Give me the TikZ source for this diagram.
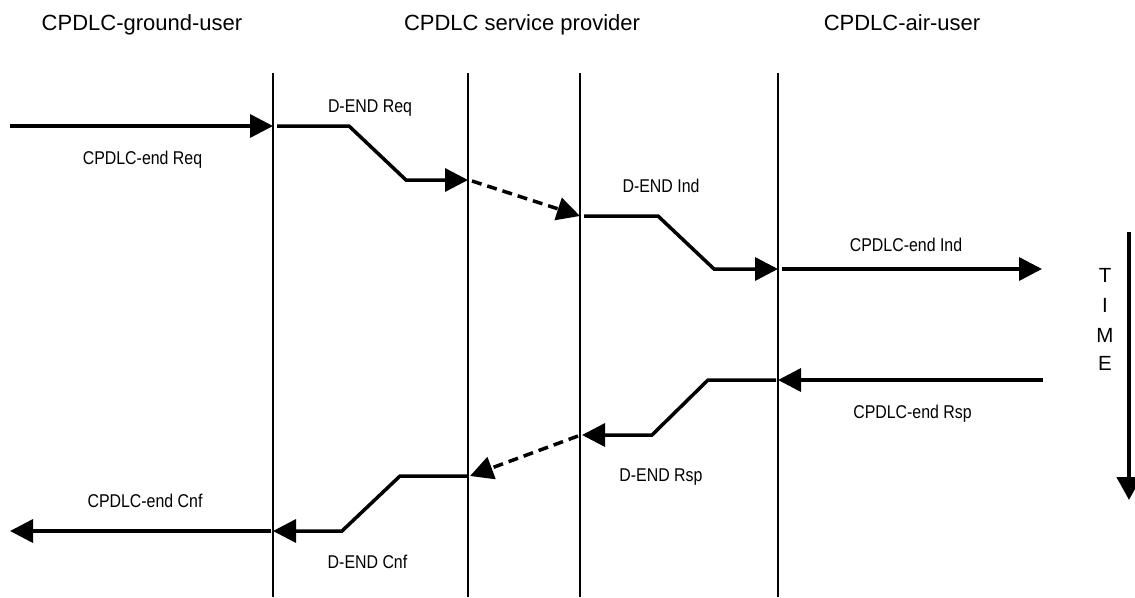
\documentclass[tikz,border=0pt]{standalone}
\usepackage{fontspec}
\setmainfont{Liberation Sans}
\newfontfamily\lblfont{Liberation Sans}[FakeStretch=0.86]
\usetikzlibrary{arrows.meta}

\tikzset{
  lifeline/.style={line width=1.8pt},
  msg/.style={line width=3.5pt, miter limit=4,
    -{Triangle[length=23pt,width=23pt]}},
  msgdash/.style={msg, dash pattern=on 10pt off 6pt},
  timeaxis/.style={line width=4.5pt, -{Triangle[length=23pt,width=24pt]}},
  head/.style={font=\fontsize{22}{25}\selectfont, anchor=base, inner sep=0pt},
  lbl/.style={font=\lblfont\fontsize{18.5}{21}\selectfont, anchor=base, inner sep=0pt},
  tletter/.style={font=\fontsize{20.5}{23}\selectfont, anchor=base, inner sep=0pt}
}

\begin{document}
\begin{tikzpicture}[x=1pt, y=-1pt]
  \useasboundingbox (0,0) rectangle (1135,597);

  % column headings
  \node[head] (hg) at (142,30) {CPDLC-ground-user};
  \node[head] (hs) at (522,30) {CPDLC service provider};
  \node[head] (ha) at (902,30) {CPDLC-air-user};

  % lifelines
  \foreach \n/\x in {1/273, 2/468, 3/580, 4/778} {
    \coordinate (L\n t) at (\x,73);
    \coordinate (L\n b) at (\x,597);
    \draw[lifeline] (L\n t) -- (L\n b);
  }

  % end request, ground -> air
  \coordinate (gIn)  at (10,126);
  \coordinate (gReq) at (273,126);
  \draw[msg] (gIn) -- (gReq);
  \node[lbl] (lReq) at (142.5,164) {CPDLC-end Req};

  \coordinate (pReq0) at (277,126);
  \coordinate (pReq1) at (349,126);
  \coordinate (pReq2) at (406,180);
  \coordinate (pReq3) at (468,180);
  \draw[msg] (pReq0) -- (pReq1) -- (pReq2) -- (pReq3);
  \node[lbl] (lDReq) at (370,112) {D-END Req};

  \coordinate (nReq0) at (472,181);
  \coordinate (nReq1) at (580,216);
  \draw[msgdash] (nReq0) -- (nReq1);

  \coordinate (pInd0) at (584,216);
  \coordinate (pInd1) at (658,216);
  \coordinate (pInd2) at (714,269);
  \coordinate (pInd3) at (778,269);
  \draw[msg] (pInd0) -- (pInd1) -- (pInd2) -- (pInd3);
  \node[lbl] (lDInd) at (661,192) {D-END Ind};

  \coordinate (aInd0) at (782,269);
  \coordinate (aInd1) at (1042,269);
  \draw[msg] (aInd0) -- (aInd1);
  \node[lbl] (lInd) at (906,251) {CPDLC-end Ind};

  % end response, air -> ground
  \coordinate (aRsp0) at (1043,380);
  \coordinate (aRsp1) at (778,380);
  \draw[msg] (aRsp0) -- (aRsp1);
  \node[lbl] (lRsp) at (912.5,418) {CPDLC-end Rsp};

  \coordinate (pRsp0) at (776,380);
  \coordinate (pRsp1) at (708,380);
  \coordinate (pRsp2) at (652,435);
  \coordinate (pRsp3) at (582,435);
  \draw[msg] (pRsp0) -- (pRsp1) -- (pRsp2) -- (pRsp3);
  \node[lbl] (lDRsp) at (661,481) {D-END Rsp};

  \coordinate (nRsp0) at (578,436);
  \coordinate (nRsp1) at (470,476);
  \draw[msgdash] (nRsp0) -- (nRsp1);

  \coordinate (pCnf0) at (468,476);
  \coordinate (pCnf1) at (400,476);
  \coordinate (pCnf2) at (342,531);
  \coordinate (pCnf3) at (273,531);
  \draw[msg] (pCnf0) -- (pCnf1) -- (pCnf2) -- (pCnf3);
  \node[lbl] (lDCnf) at (367.5,568) {D-END Cnf};

  \coordinate (gCnf0) at (271,531);
  \coordinate (gCnf1) at (10,531);
  \draw[msg] (gCnf0) -- (gCnf1);
  \node[lbl] (lCnf) at (145,507) {CPDLC-end Cnf};

  % time axis
  \coordinate (t0) at (1129,232);
  \coordinate (t1) at (1129,500);
  \draw[timeaxis] (t0) -- (t1);
  \node[tletter] (tT) at (1105,282) {T};
  \node[tletter] (tI) at (1105,312) {I};
  \node[tletter] (tM) at (1105,342) {M};
  \node[tletter] (tE) at (1105,370) {E};
\end{tikzpicture}
\end{document}
